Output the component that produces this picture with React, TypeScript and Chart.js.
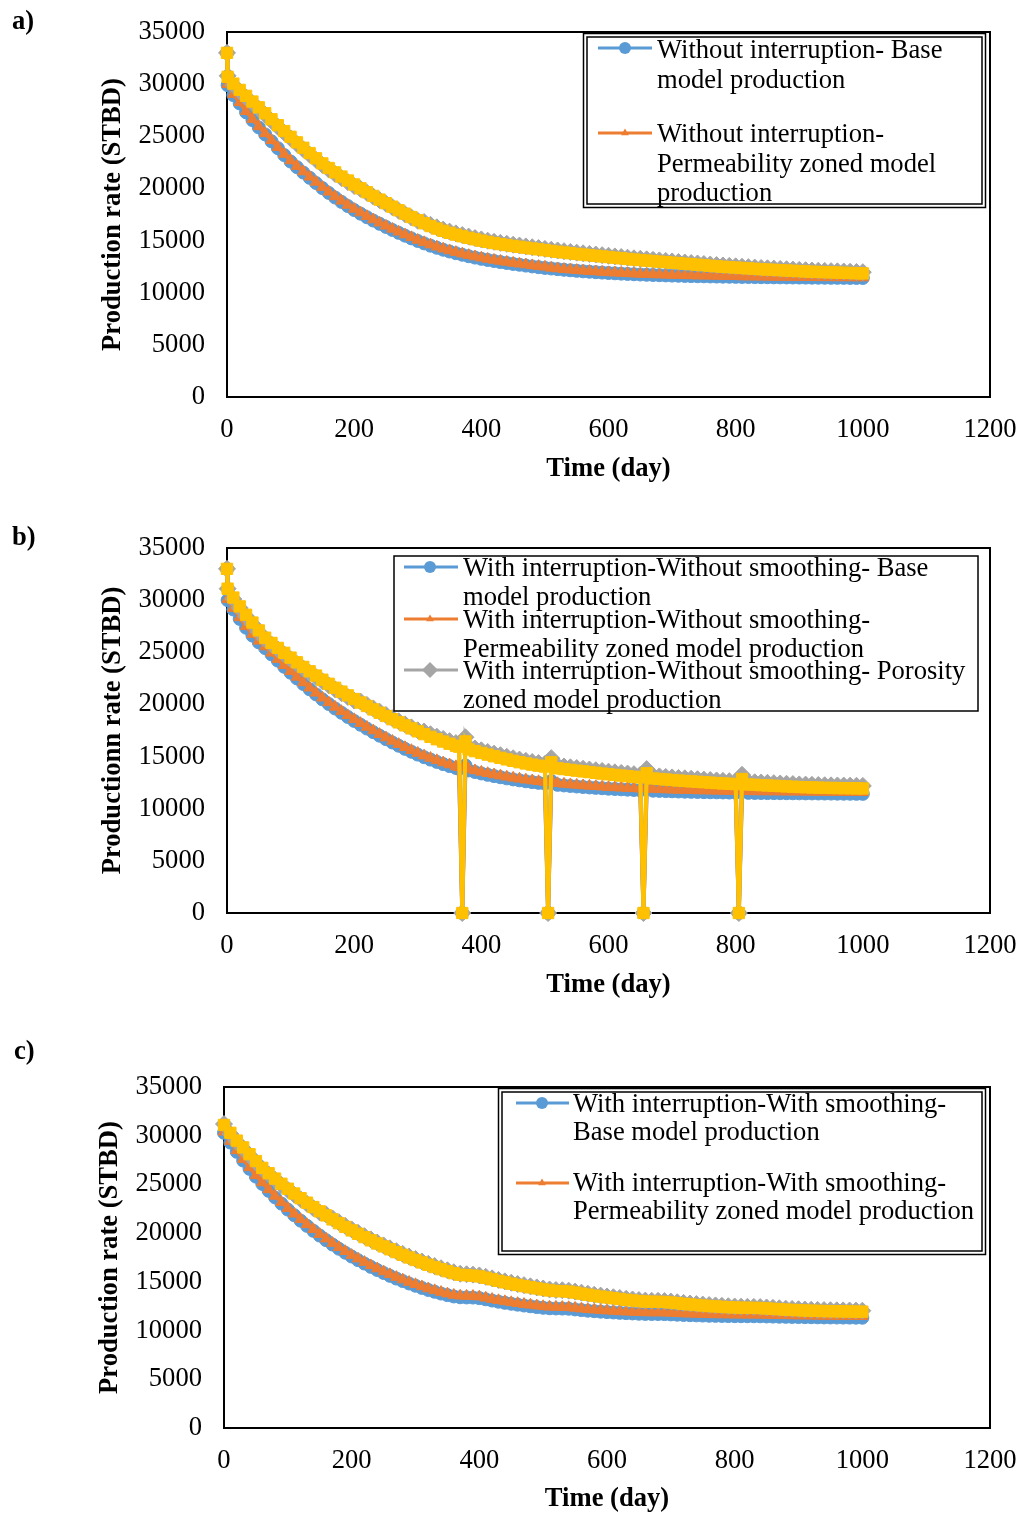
import React, { useEffect, useRef } from "react";
import { Chart, registerables } from "chart.js";

Chart.register(...registerables);

const FONT = '"Liberation Serif", "Times New Roman", serif';
const PAGE_W = 1019;
const PAGE_H = 1515;
const TEXT_SIZE = 26.6;

// ---------------- shared axis text ----------------
const X_TITLE = "Time (day)";
const Y_TITLE_A = "Production rate (STBD)";
const Y_TITLE_B = "Productionn rate (STBD)";
const Y_TITLE_C = "Production rate (STBD)";

// ---------------- panel a: without interruption ----------------
const DAYS_A = [0, 1,
  10, 20, 30, 40, 50, 60, 70, 80, 90, 100,
  110, 120, 130, 140, 150, 160, 170, 180, 190, 200,
  210, 220, 230, 240, 250, 260, 270, 280, 290, 300,
  310, 320, 330, 340, 350, 360, 370, 380, 390, 400,
  410, 420, 430, 440, 450, 460, 470, 480, 490, 500,
  510, 520, 530, 540, 550, 560, 570, 580, 590, 600,
  610, 620, 630, 640, 650, 660, 670, 680, 690, 700,
  710, 720, 730, 740, 750, 760, 770, 780, 790, 800,
  810, 820, 830, 840, 850, 860, 870, 880, 890, 900,
  910, 920, 930, 940, 950, 960, 970, 980, 990, 1000];

const BLUE_A = [33000, 29900,
  28950, 28150, 27300, 26550, 25850, 25180, 24520, 23860, 23200, 22580,
  22040, 21520, 21020, 20520, 20030, 19570, 19130, 18710, 18310, 17930,
  17580, 17240, 16920, 16610, 16310, 16020, 15740, 15470, 15210, 14960,
  14730, 14510, 14310, 14120, 13950, 13790, 13640, 13500, 13370, 13250,
  13140, 13040, 12940, 12850, 12760, 12680, 12600, 12520, 12450, 12380,
  12320, 12260, 12200, 12150, 12100, 12050, 12010, 11970, 11930, 11890,
  11860, 11830, 11800, 11770, 11745, 11720, 11700, 11680, 11660, 11640,
  11625, 11610, 11595, 11580, 11570, 11560, 11550, 11540, 11530, 11520,
  11512, 11505, 11498, 11491, 11484, 11478, 11472, 11466, 11460, 11455,
  11450, 11445, 11440, 11436, 11432, 11428, 11424, 11420, 11416, 11412];

const ORANGE_A = [33000, 30000,
  29050, 28250, 27400, 26650, 25950, 25280, 24620, 23960, 23300, 22680,
  22140, 21620, 21120, 20620, 20130, 19670, 19230, 18810, 18410, 18030,
  17680, 17340, 17020, 16710, 16410, 16120, 15840, 15570, 15310, 15060,
  14830, 14610, 14410, 14220, 14050, 13890, 13740, 13600, 13470, 13350,
  13240, 13140, 13040, 12950, 12860, 12780, 12700, 12620, 12550, 12480,
  12380, 12320, 12260, 12210, 12160, 12110, 12070, 12030, 11990, 11950,
  11920, 11890, 11860, 11830, 11805, 11780, 11760, 11740, 11720, 11700,
  11685, 11670, 11655, 11640, 11630, 11620, 11610, 11600, 11590, 11580,
  11552, 11545, 11538, 11531, 11524, 11518, 11512, 11506, 11500, 11495,
  11490, 11485, 11480, 11476, 11472, 11468, 11464, 11460, 11456, 11452];

const GRAY_A = [33000, 30800,
  29900, 29300, 28730, 28180, 27630, 27060, 26480, 25910, 25350, 24800,
  24270, 23750, 23240, 22740, 22250, 21810, 21390, 20990, 20610, 20230,
  19960, 19590, 19230, 18880, 18540, 18200, 17860, 17530, 17210, 16900,
  16780, 16510, 16270, 16050, 15860, 15690, 15530, 15380, 15240, 15110,
  14990, 14880, 14780, 14690, 14600, 14520, 14440, 14360, 14280, 14200,
  14120, 14050, 13980, 13910, 13840, 13780, 13720, 13660, 13600, 13540,
  13480, 13420, 13360, 13300, 13250, 13200, 13150, 13100, 13050, 13000,
  12950, 12900, 12850, 12800, 12750, 12700, 12650, 12610, 12570, 12530,
  12490, 12450, 12410, 12370, 12340, 12310, 12280, 12250, 12220, 12190,
  12160, 12130, 12110, 12090, 12070, 12050, 12030, 12010, 11990, 11970];

const YELLOW_A = [33000, 30700,
  30050, 29450, 28880, 28330, 27780, 27210, 26630, 26060, 25500, 24950,
  24420, 23900, 23390, 22890, 22400, 21960, 21540, 21140, 20760, 20380,
  20010, 19640, 19280, 18930, 18590, 18250, 17910, 17580, 17260, 16950,
  16660, 16390, 16150, 15930, 15740, 15570, 15410, 15260, 15120, 14990,
  14870, 14760, 14660, 14570, 14480, 14400, 14320, 14240, 14160, 14080,
  14000, 13930, 13860, 13790, 13720, 13660, 13600, 13540, 13480, 13420,
  13360, 13300, 13240, 13180, 13130, 13080, 13030, 12980, 12930, 12880,
  12830, 12780, 12730, 12680, 12630, 12580, 12530, 12490, 12450, 12410,
  12370, 12330, 12290, 12250, 12220, 12190, 12160, 12130, 12100, 12070,
  12040, 12010, 11990, 11970, 11950, 11930, 11910, 11890, 11870, 11850];

// ---------------- panel b: with interruption, without smoothing ----------------
const DAYS_B = [0, 1,
  10, 20, 30, 40, 50, 60, 70, 80, 90, 100,
  110, 120, 130, 140, 150, 160, 170, 180, 190, 200,
  210, 220, 230, 240, 250, 260, 270, 280, 290, 300,
  310, 320, 330, 340, 350, 360, 365, 370, 375,
  380, 390, 400,
  410, 420, 430, 440, 450, 460, 470, 480, 490, 500, 505, 510,
  520, 530, 540, 550, 560, 570, 580, 590, 600,
  610, 620, 630, 640, 650, 655, 660, 670, 680, 690, 700,
  710, 720, 730, 740, 750, 760, 770, 780, 790, 800, 805, 810,
  820, 830, 840, 850, 860, 870, 880, 890, 900,
  910, 920, 930, 940, 950, 960, 970, 980, 990, 1000];

const BLUE_B = [33000, 30000,
  29100, 28200, 27350, 26600, 25950, 25400, 24800, 24200, 23610, 23040,
  22490, 21960, 21450, 20960, 20490, 20040, 19610, 19200, 18800, 18420,
  18050, 17690, 17340, 17000, 16670, 16350, 16040, 15740, 15460, 15190,
  14940, 14710, 14490, 14280, 14090, 13910, 13830, 0, 14150,
  13670, 13520, 13380,
  13250, 13130, 13020, 12910, 12810, 12720, 12630, 12550, 12480, 12410, 0, 12650,
  12290, 12230, 12180, 12130, 12080, 12040, 12000, 11960, 11920,
  11890, 11860, 11830, 11800, 11770, 0, 12000, 11730, 11710, 11690, 11670,
  11650, 11635, 11620, 11605, 11590, 11580, 11570, 11560, 11550, 11540, 0, 11760,
  11520, 11510, 11505, 11500, 11495, 11490, 11485, 11480, 11475,
  11470, 11465, 11460, 11455, 11450, 11445, 11440, 11435, 11430, 11425];

const ORANGE_B = [33000, 30100,
  29250, 28350, 27500, 26750, 26100, 25550, 24950, 24350, 23760, 23190,
  22640, 22110, 21600, 21110, 20640, 20190, 19760, 19350, 18950, 18570,
  18200, 17840, 17490, 17150, 16820, 16500, 16190, 15890, 15610, 15340,
  15090, 14860, 14640, 14430, 14240, 14060, 13980, 0, 14300,
  13820, 13670, 13530,
  13400, 13280, 13170, 13060, 12960, 12870, 12780, 12700, 12630, 12560, 0, 12800,
  12440, 12380, 12330, 12280, 12230, 12190, 12150, 12110, 12070,
  12040, 12010, 11980, 11950, 11920, 0, 12150, 11880, 11860, 11840, 11820,
  11800, 11785, 11770, 11755, 11740, 11730, 11720, 11710, 11700, 11690, 0, 11910,
  11670, 11660, 11655, 11650, 11645, 11640, 11635, 11630, 11625,
  11620, 11615, 11610, 11605, 11600, 11595, 11590, 11585, 11580, 11575];

const GRAY_B = [33000, 31100,
  30100, 29250, 28450, 27700, 26950, 26250, 25750, 25270, 24800, 24340,
  23890, 23450, 23030, 22620, 22220, 21830, 21450, 21080, 20720, 20370,
  20280, 19950, 19620, 19300, 18990, 18680, 18380, 18090, 17800, 17520,
  17400, 17140, 16910, 16690, 16480, 16290, 16200, 0, 16850,
  15940, 15770, 15600,
  15440, 15280, 15130, 14980, 14840, 14710, 14590, 14480, 14380, 14290, 0, 14850,
  14120, 14050, 13970, 13900, 13830, 13760, 13690, 13620, 13550,
  13490, 13430, 13370, 13310, 13250, 0, 13800, 13150, 13100, 13050, 13000,
  12950, 12910, 12870, 12830, 12790, 12750, 12710, 12670, 12640, 12610, 0, 13250,
  12570, 12540, 12510, 12480, 12450, 12420, 12390, 12360, 12330,
  12310, 12290, 12270, 12250, 12240, 12230, 12220, 12210, 12200, 12190];

const YELLOW_B = [33000, 31100,
  30250, 29400, 28600, 27850, 27100, 26400, 25900, 25420, 24950, 24490,
  24040, 23600, 23180, 22770, 22370, 21980, 21600, 21230, 20870, 20520,
  20180, 19850, 19520, 19200, 18890, 18580, 18280, 17990, 17700, 17420,
  17150, 16890, 16660, 16440, 16230, 16040, 15950, 0, 16450,
  15690, 15520, 15350,
  15190, 15030, 14880, 14730, 14590, 14460, 14340, 14230, 14130, 14040, 0, 14450,
  13870, 13800, 13720, 13650, 13580, 13510, 13440, 13370, 13300,
  13240, 13180, 13120, 13060, 13000, 0, 13400, 12900, 12850, 12800, 12750,
  12700, 12660, 12620, 12580, 12540, 12500, 12460, 12420, 12390, 12360, 0, 12850,
  12320, 12290, 12260, 12230, 12200, 12170, 12140, 12110, 12080,
  12060, 12040, 12020, 12000, 11990, 11980, 11970, 11960, 11950, 11940];

// ---------------- panel c: with interruption, with smoothing ----------------
const DAYS_C = [0,
  10, 20, 30, 40, 50, 60, 70, 80, 90, 100,
  110, 120, 130, 140, 150, 160, 170, 180, 190, 200,
  210, 220, 230, 240, 250, 260, 270, 280, 290, 300,
  310, 320, 330, 340, 350, 360, 370, 380, 390, 400,
  410, 420, 430, 440, 450, 460, 470, 480, 490, 500,
  510, 520, 530, 540, 550, 560, 570, 580, 590, 600,
  610, 620, 630, 640, 650, 660, 670, 680, 690, 700,
  710, 720, 730, 740, 750, 760, 770, 780, 790, 800,
  810, 820, 830, 840, 850, 860, 870, 880, 890, 900,
  910, 920, 930, 940, 950, 960, 970, 980, 990, 1000];

const BLUE_C = [30300,
  29300, 28350, 27450, 26600, 25800, 25050, 24340, 23670, 23030, 22420,
  21840, 21280, 20750, 20240, 19750, 19280, 18830, 18400, 17990, 17600,
  17230, 16880, 16540, 16220, 15910, 15620, 15340, 15080, 14830, 14600,
  14380, 14170, 13980, 13800, 13640, 13500, 13420, 13400, 13390, 13330,
  13210, 13080, 12960, 12850, 12750, 12660, 12570, 12490, 12410, 12340,
  12290, 12270, 12260, 12240, 12170, 12100, 12040, 11990, 11940, 11900,
  11860, 11820, 11790, 11760, 11730, 11710, 11700, 11700, 11690, 11660,
  11630, 11600, 11580, 11560, 11540, 11520, 11510, 11500, 11490, 11480,
  11475, 11472, 11470, 11465, 11450, 11435, 11420, 11410, 11400, 11390,
  11380, 11370, 11360, 11350, 11345, 11340, 11335, 11330, 11325, 11320];

const ORANGE_C = [30400,
  29450, 28500, 27600, 26750, 25950, 25200, 24490, 23820, 23180, 22570,
  21990, 21430, 20900, 20390, 19900, 19430, 18980, 18550, 18140, 17750,
  17380, 17030, 16690, 16370, 16060, 15770, 15490, 15230, 14980, 14750,
  14530, 14320, 14130, 13950, 13790, 13650, 13570, 13550, 13540, 13480,
  13360, 13230, 13110, 13000, 12900, 12810, 12720, 12640, 12560, 12490,
  12440, 12420, 12410, 12390, 12320, 12250, 12190, 12140, 12090, 12050,
  12010, 11970, 11940, 11910, 11880, 11860, 11850, 11850, 11840, 11810,
  11780, 11750, 11730, 11710, 11690, 11670, 11660, 11650, 11640, 11630,
  11625, 11622, 11620, 11615, 11600, 11585, 11570, 11560, 11550, 11540,
  11530, 11520, 11510, 11500, 11495, 11490, 11485, 11480, 11475, 11470];

const GRAY_C = [31200,
  30180, 29380, 28680, 27980, 27280, 26580, 26030, 25480, 24950, 24440,
  23950, 23470, 23010, 22560, 22120, 21920, 21510, 21120, 20740, 20380,
  20030, 19690, 19360, 19040, 18740, 18440, 18150, 17870, 17600, 17340,
  17090, 16850, 16620, 16400, 16190, 15990, 15830, 15780, 15740, 15660,
  15520, 15360, 15200, 15050, 14910, 14780, 14660, 14540, 14430, 14320,
  14220, 14160, 14140, 14100, 14000, 13890, 13780, 13680, 13590, 13500,
  13420, 13340, 13260, 13190, 13130, 13080, 13060, 13050, 13030, 12980,
  12910, 12840, 12780, 12720, 12670, 12620, 12580, 12540, 12500, 12470,
  12450, 12440, 12430, 12410, 12370, 12330, 12290, 12250, 12220, 12190,
  12160, 12140, 12120, 12100, 12090, 12080, 12070, 12060, 12050, 12040];

const YELLOW_C = [31100,
  30300, 29500, 28800, 28100, 27400, 26700, 26150, 25600, 25070, 24560,
  24070, 23590, 23130, 22680, 22240, 21820, 21410, 21020, 20640, 20280,
  19930, 19590, 19260, 18940, 18640, 18340, 18050, 17770, 17500, 17240,
  16990, 16750, 16520, 16300, 16090, 15890, 15730, 15680, 15640, 15560,
  15420, 15260, 15100, 14950, 14810, 14680, 14560, 14440, 14330, 14220,
  14120, 14060, 14040, 14000, 13900, 13790, 13680, 13580, 13490, 13400,
  13320, 13240, 13160, 13090, 13030, 12980, 12960, 12950, 12930, 12880,
  12810, 12740, 12680, 12620, 12570, 12520, 12480, 12440, 12400, 12370,
  12350, 12340, 12330, 12310, 12270, 12230, 12190, 12150, 12120, 12090,
  12060, 12040, 12020, 12000, 11990, 11980, 11970, 11960, 11950, 11940];

// ---------------- legend texts ----------------
const LEG_A_BLUE = ["Without interruption- Base", "model production"];
const LEG_A_ORANGE = ["Without interruption-", "Permeability zoned model", "production"];
const LEG_B_BLUE = ["With interruption-Without smoothing- Base", "model production"];
const LEG_B_ORANGE = ["With interruption-Without smoothing-", "Permeability zoned model production"];
const LEG_B_GRAY = ["With interruption-Without smoothing- Porosity", "zoned model production"];
const LEG_C_BLUE = ["With interruption-With smoothing-", "Base model production"];
const LEG_C_ORANGE = ["With interruption-With smoothing-", "Permeability zoned model production"];

// ---------------- styles ----------------
type Key = "blue" | "orange" | "gray" | "yellow";
const STYLES: Record<Key, { color: string; marker: string; radius: number; legendRadius: number }> = {
  blue: { color: "#5B9BD5", marker: "circle", radius: 6.5, legendRadius: 6 },
  orange: { color: "#ED7D31", marker: "triangle", radius: 6.5, legendRadius: 4.5 },
  gray: { color: "#A5A5A5", marker: "rectRot", radius: 8.5, legendRadius: 8 },
  yellow: { color: "#FFC000", marker: "rect", radius: 8, legendRadius: 7 },
};

interface LegendEntry { key: Key; lineY: number; baselines: number[]; lines: string[] }
interface Panel {
  id: string;
  top: number;
  height: number;
  plot: { l: number; r: number; t: number; b: number };
  xTickY: number;
  xTitleY: number;
  yTitleX: number;
  yTickRight: number;
  yTitle: string;
  label: { x: number; y: number };
  days: number[];
  series: Record<Key, number[]>;
  legend: { box: number[]; gap: number; lineX: number[]; markerX: number; textX: number; entries: LegendEntry[] };
}

const PANELS: Panel[] = [
  {
    id: "a", top: 0, height: 505,
    plot: { l: 227, r: 990, t: 32, b: 397 },
    xTickY: 430, xTitleY: 469, yTitleX: 113, yTickRight: 205, yTitle: Y_TITLE_A,
    label: { x: 12, y: 20 },
    days: DAYS_A,
    series: { blue: BLUE_A, orange: ORANGE_A, gray: GRAY_A, yellow: YELLOW_A },
    legend: {
      box: [587, 37, 982, 204], gap: 3.5, lineX: [598, 652], markerX: 625, textX: 657,
      entries: [
        { key: "blue", lineY: 48, baselines: [58, 88], lines: LEG_A_BLUE },
        { key: "orange", lineY: 133, baselines: [142, 172, 201], lines: LEG_A_ORANGE },
      ],
    },
  },
  {
    id: "b", top: 505, height: 510,
    plot: { l: 227, r: 990, t: 548, b: 913 },
    xTickY: 946, xTitleY: 985, yTitleX: 113, yTickRight: 205, yTitle: Y_TITLE_B,
    label: { x: 12, y: 536 },
    days: DAYS_B,
    series: { blue: BLUE_B, orange: ORANGE_B, gray: GRAY_B, yellow: YELLOW_B },
    legend: {
      box: [394, 556, 978, 711], gap: 0, lineX: [404, 458], markerX: 430, textX: 463,
      entries: [
        { key: "blue", lineY: 567, baselines: [576, 605], lines: LEG_B_BLUE },
        { key: "orange", lineY: 619, baselines: [628, 657], lines: LEG_B_ORANGE },
        { key: "gray", lineY: 670, baselines: [679, 708], lines: LEG_B_GRAY },
      ],
    },
  },
  {
    id: "c", top: 1015, height: 500,
    plot: { l: 224, r: 990, t: 1087, b: 1428 },
    xTickY: 1461, xTitleY: 1500, yTitleX: 110, yTickRight: 202, yTitle: Y_TITLE_C,
    label: { x: 14, y: 1050 },
    days: DAYS_C,
    series: { blue: BLUE_C, orange: ORANGE_C, gray: GRAY_C, yellow: YELLOW_C },
    legend: {
      box: [502, 1092, 982, 1251], gap: 3.5, lineX: [516, 569], markerX: 542, textX: 573,
      entries: [
        { key: "blue", lineY: 1103, baselines: [1112, 1140], lines: LEG_C_BLUE },
        { key: "orange", lineY: 1183, baselines: [1191, 1219], lines: LEG_C_ORANGE },
      ],
    },
  },
];

function drawMarker(ctx: CanvasRenderingContext2D, marker: string, x: number, y: number, r: number) {
  ctx.beginPath();
  if (marker === "circle") {
    ctx.arc(x, y, r, 0, Math.PI * 2);
  } else if (marker === "triangle") {
    ctx.moveTo(x, y - r);
    ctx.lineTo(x + r * 0.866, y + r * 0.5);
    ctx.lineTo(x - r * 0.866, y + r * 0.5);
    ctx.closePath();
  } else if (marker === "rectRot") {
    ctx.moveTo(x - r, y);
    ctx.lineTo(x, y - r);
    ctx.lineTo(x + r, y);
    ctx.lineTo(x, y + r);
    ctx.closePath();
  } else {
    const s = r * Math.SQRT1_2;
    ctx.rect(x - s, y - s, 2 * s, 2 * s);
  }
  ctx.fill();
}

function zeroPadding(s: any) {
  s.paddingLeft = 0;
  s.paddingRight = 0;
  s.paddingTop = 0;
  s.paddingBottom = 0;
}

function PanelChart({ p }: { p: Panel }) {
  const ref = useRef<HTMLCanvasElement>(null);
  useEffect(() => {
    const canvas = ref.current;
    if (!canvas) return;
    const half = (TEXT_SIZE * 1.2) / 2;
    const order: Key[] = ["yellow", "gray", "orange", "blue"];
    const datasets = order.map((k) => {
      const st = STYLES[k];
      const vals = p.series[k];
      return {
        label: k,
        data: p.days.map((d, i) => ({ x: d, y: vals[i] })),
        borderColor: st.color,
        backgroundColor: st.color,
        pointBackgroundColor: st.color,
        pointBorderColor: st.color,
        borderWidth: 4,
        pointStyle: st.marker,
        pointRadius: st.radius,
        pointHoverRadius: st.radius,
        pointBorderWidth: 1,
        tension: 0,
        fill: false,
        clip: false,
      };
    });

    const deco = {
      id: "deco",
      beforeDatasetsDraw(chart: any) {
        const { ctx, chartArea: a } = chart;
        ctx.save();
        ctx.strokeStyle = "#000";
        ctx.lineWidth = 2;
        ctx.strokeRect(a.left, a.top, a.right - a.left, a.bottom - a.top);
        ctx.restore();
      },
      afterDraw(chart: any) {
        const ctx: CanvasRenderingContext2D = chart.ctx;
        const L = p.legend;
        const off = p.top;
        const [x0, y0, x1, y1] = L.box;
        ctx.save();
        ctx.fillStyle = "#fff";
        ctx.fillRect(x0, y0 - off, x1 - x0, y1 - y0);
        ctx.strokeStyle = "#000";
        ctx.lineWidth = 1.5;
        if (L.gap > 0) {
          ctx.strokeRect(x0 - L.gap, y0 - off - L.gap, x1 - x0 + 2 * L.gap, y1 - y0 + 2 * L.gap);
        }
        ctx.strokeRect(x0, y0 - off, x1 - x0, y1 - y0);
        for (const e of L.entries) {
          const st = STYLES[e.key];
          ctx.strokeStyle = st.color;
          ctx.fillStyle = st.color;
          ctx.lineWidth = 3;
          ctx.beginPath();
          ctx.moveTo(L.lineX[0], e.lineY - off);
          ctx.lineTo(L.lineX[1], e.lineY - off);
          ctx.stroke();
          drawMarker(ctx, st.marker, L.markerX, e.lineY - off, st.legendRadius);
          ctx.fillStyle = "#000";
          ctx.font = `${TEXT_SIZE}px ${FONT}`;
          ctx.textAlign = "left";
          ctx.textBaseline = "alphabetic";
          e.lines.forEach((t, i) => ctx.fillText(t, L.textX, e.baselines[i] - off));
        }
        ctx.restore();
      },
    };

    const tickFont = { family: FONT, size: TEXT_SIZE };
    const titleFont = { family: FONT, size: TEXT_SIZE, weight: "bold" as const };
    const chart = new Chart(canvas, {
      type: "line",
      data: { datasets: datasets as any },
      options: {
        responsive: false,
        animation: false,
        events: [],
        layout: { padding: { left: 0, top: p.plot.t - p.top, right: PAGE_W - p.plot.r, bottom: 0 } },
        plugins: { legend: { display: false }, tooltip: { enabled: false } },
        scales: {
          x: {
            type: "linear",
            min: 0,
            max: 1200,
            ticks: {
              stepSize: 200,
              padding: p.xTickY - p.plot.b - half,
              font: tickFont,
              color: "#000",
              maxRotation: 0,
              autoSkip: false,
              callback: (v: any) => String(v),
            },
            grid: { display: false, drawTicks: false },
            border: { display: false },
            title: {
              display: true,
              text: X_TITLE,
              color: "#000",
              font: titleFont,
              padding: { top: 0, bottom: Math.max(0, p.top + p.height - p.xTitleY - half) },
            },
            afterFit: (s: any) => {
              s.height = p.top + p.height - p.plot.b;
              zeroPadding(s);
            },
          },
          y: {
            min: 0,
            max: 35000,
            ticks: {
              stepSize: 5000,
              padding: p.plot.l - p.yTickRight,
              font: tickFont,
              color: "#000",
              callback: (v: any) => String(v),
            },
            grid: { display: false, drawTicks: false },
            border: { display: false },
            title: {
              display: true,
              text: p.yTitle,
              color: "#000",
              font: titleFont,
              padding: { top: p.yTitleX - half, bottom: 0 },
            },
            afterFit: (s: any) => {
              s.width = p.plot.l;
              zeroPadding(s);
            },
          },
        },
      },
      plugins: [deco],
    });
    return () => chart.destroy();
  }, [p]);

  return (
    <canvas
      ref={ref}
      width={PAGE_W}
      height={p.height}
      style={{ position: "absolute", left: 0, top: p.top, width: PAGE_W, height: p.height }}
    />
  );
}

export default function App() {
  return (
    <div
      style={{
        position: "absolute",
        left: 0,
        top: 0,
        width: PAGE_W,
        height: PAGE_H,
        background: "#fff",
        overflow: "hidden",
      }}
    >
      {PANELS.map((p) => (
        <PanelChart key={p.id} p={p} />
      ))}
      {PANELS.map((p) => (
        <div
          key={"lbl" + p.id}
          style={{
            position: "absolute",
            left: p.label.x,
            top: p.label.y - 15,
            font: `bold ${TEXT_SIZE}px ${FONT}`,
            lineHeight: "30px",
            color: "#000",
          }}
        >
          {p.id + ")"}
        </div>
      ))}
    </div>
  );
}
